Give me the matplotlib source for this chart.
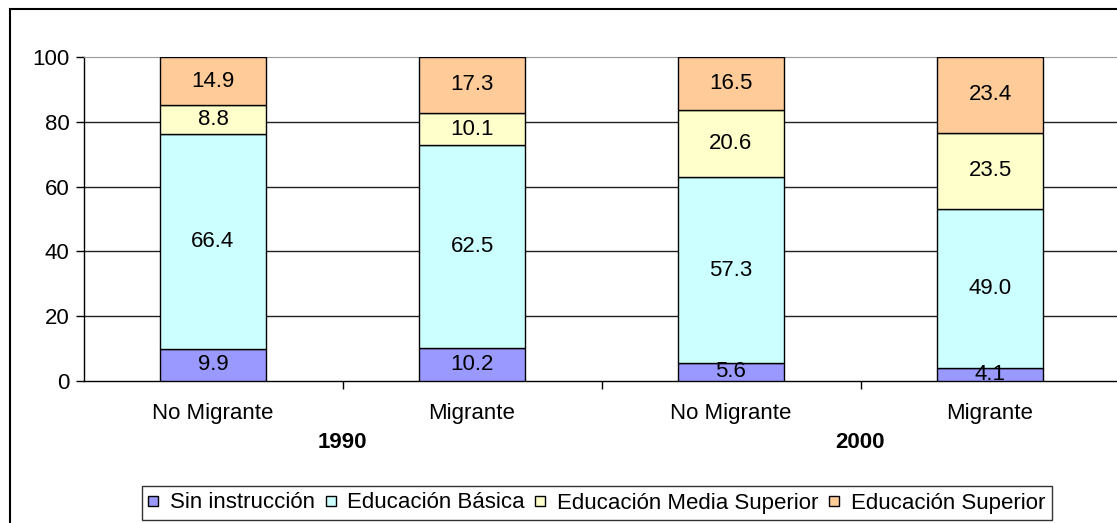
import matplotlib.pyplot as plt
from matplotlib.patches import Rectangle
from matplotlib.lines import Line2D
import numpy as np

plt.rcParams['font.family'] = ['Liberation Sans', 'DejaVu Sans']

categories = ['No Migrante', 'Migrante', 'No Migrante', 'Migrante']
years = ['1990', '2000']
series = ['Sin instrucción', 'Educación Básica', 'Educación Media Superior', 'Educación Superior']
sin_instruccion = [9.9, 10.2, 5.6, 4.1]
basica = [66.4, 62.5, 57.3, 49.0]
media_superior = [8.8, 10.1, 20.6, 23.5]
superior = [14.9, 17.3, 16.5, 23.4]
colors = ['#9999FF', '#CCFFFF', '#FFFFCC', '#FFCC99']

fs = 16
fig = plt.figure(figsize=(11.17, 5.23), dpi=100)
ax = fig.add_axes([83.5 / 1117, 142 / 523, 1036 / 1117, 324 / 523])

# outer chart border
fig.patches.append(Rectangle((10 / 1117, -0.1), 1.2, 1.1 - 9 / 523, transform=fig.transFigure,
                             fill=False, edgecolor='black', linewidth=1.5))

x = np.arange(len(categories))
bottom = np.zeros(len(categories))
for vals, col in zip([sin_instruccion, basica, media_superior, superior], colors):
    ax.bar(x, vals, width=0.41, bottom=bottom, color=col, edgecolor='black', linewidth=1, zorder=3)
    for xi, b, v in zip(x, bottom, vals):
        ax.text(xi, b + v / 2, f'{v:.1f}', ha='center', va='center', fontsize=fs, zorder=4)
    bottom += np.array(vals)

ax.set_xlim(-0.5, len(categories) - 0.5)
ax.set_ylim(0, 100)
ax.set_yticks([0, 20, 40, 60, 80, 100])
ax.tick_params(axis='y', labelsize=fs, direction='out', length=6, width=1, pad=4)
for yv in [20, 40, 60, 80]:
    ax.axhline(yv, color='#222222', linewidth=1, zorder=1)

# category boundary ticks
ax.set_xticks([0.5, 1.5, 2.5])
ax.set_xticklabels([])
ax.tick_params(axis='x', direction='out', length=6, width=1)
for xi, c in zip(x, categories):
    ax.text(xi, -10, c, ha='center', va='center', fontsize=fs, clip_on=False)
for i, y in enumerate(years):
    ax.text(2 * i + 0.5, -19, y, ha='center', va='center', fontsize=fs, fontweight='bold', clip_on=False)

ax.spines['top'].set_color('#999999')
ax.spines['right'].set_visible(False)
ax.spines['left'].set_linewidth(1)
ax.spines['bottom'].set_linewidth(1)

handles = [Line2D([], [], marker='s', linestyle='none', markersize=6.5, markerfacecolor=c,
                  markeredgecolor='black', markeredgewidth=1) for c in colors]
leg = fig.legend(handles, series, loc='center', bbox_to_anchor=(597 / 1117, 20 / 523), ncol=4,
                 fontsize=fs, frameon=True, fancybox=False, handlelength=0.4, handletextpad=0.55,
                 columnspacing=0.5, borderpad=0.3, borderaxespad=0)
leg.get_frame().set_edgecolor('black')
leg.get_frame().set_linewidth(1)

fig.savefig('out.png', dpi=100)
